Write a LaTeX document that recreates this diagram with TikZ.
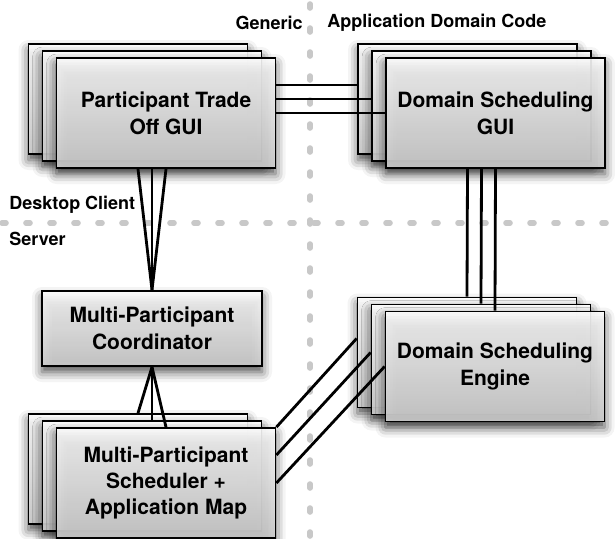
\documentclass[tikz,border=0pt]{standalone}
\usepackage{fontspec}
\setmainfont{TeX Gyre Heros}
\usetikzlibrary{calc,shadows.blur}
\definecolor{dividergray}{HTML}{C8C8C8}
\definecolor{panelgray}{HTML}{D2D2D2}

\begin{document}
\begin{tikzpicture}[x=0.5pt,y=-0.5pt,
  panel/.style={draw=black,line width=0.9pt,top color=white,bottom color=panelgray,
    fill opacity=0.88,text opacity=1,minimum width=109.5pt,minimum height=55pt,inner sep=0pt,
    align=center,font=\fontsize{10.5}{13.5}\selectfont\bfseries,
    blur shadow={shadow xshift=0pt,shadow yshift=-3pt,shadow blur radius=5pt,shadow opacity=80}},
  link/.style={line width=1.4pt},
  divider/.style={dividergray,line width=2.8pt,line cap=round,dash pattern=on 2pt off 10pt},
  tag/.style={font=\fontsize{9}{11}\selectfont\bfseries,inner sep=0pt}]
  \useasboundingbox (0,0) rectangle (615,538);
  % client / server and generic / domain split
  \draw[divider] (310,4) -- (310,538);
  \draw[divider] (2,223) -- (615,223);
  \node[tag,anchor=east] (generic) at (303,23) {Generic};
  \node[tag,anchor=west] (appcode) at (327,23) {Application Domain Code};
  \node[tag,anchor=west] (client) at (9,205) {Desktop Client};
  \node[tag,anchor=west] (server) at (9,239) {Server};
  % stacked components
  \foreach \i in {1,2}{
    \node[panel] (L\i) at (124+14*\i,92+7*\i) {};
    \node[panel] (R\i) at (453.5+14*\i,92+7*\i) {};
    \node[panel] (E\i) at (453+14*\i,345.5+7*\i) {};
    \node[panel] (B\i) at (124+14*\i,462+7*\i) {};
  }
  \node[panel] (L3) at (166,113) {Participant Trade\\Off GUI};
  \node[panel] (R3) at (495.5,113) {Domain Scheduling\\GUI};
  \node[panel] (E3) at (495,366.5) {Domain Scheduling\\Engine};
  \node[panel,font=\fontsize{10.5}{13}\selectfont\bfseries] (B3) at (166,483) {Multi-Participant\\Scheduler +\\Application Map};
  \node[panel,minimum width=110pt,minimum height=37.5pt] (C) at (152,328.5) {Multi-Participant\\Coordinator};
  % connectors
  \draw[link] (L3.east) -- (L3.east -| R3.west);
  \draw[link] ([yshift=7pt]L3.east) -- ([yshift=7pt]L3.east -| R2.west);
  \draw[link] ([yshift=14pt]L3.east) -- ([yshift=14pt]L3.east -| R1.west);
  \foreach \i in {1,2,3}{
    \draw[link] (L\i |- L3.south) -- (C.north);
    \draw[link] (R\i |- R3.south) -- (E\i.north);
    \draw[link] (C.south) -- (B\i.north);
  }
  \draw[link] (B3.east) -- (E3.west);
  \draw[link] ([yshift=14pt]B3.east) -- ([yshift=3.5pt]E2.west);
  \draw[link] (B3.north east) -- ([yshift=7pt]E1.west);
\end{tikzpicture}
\end{document}
